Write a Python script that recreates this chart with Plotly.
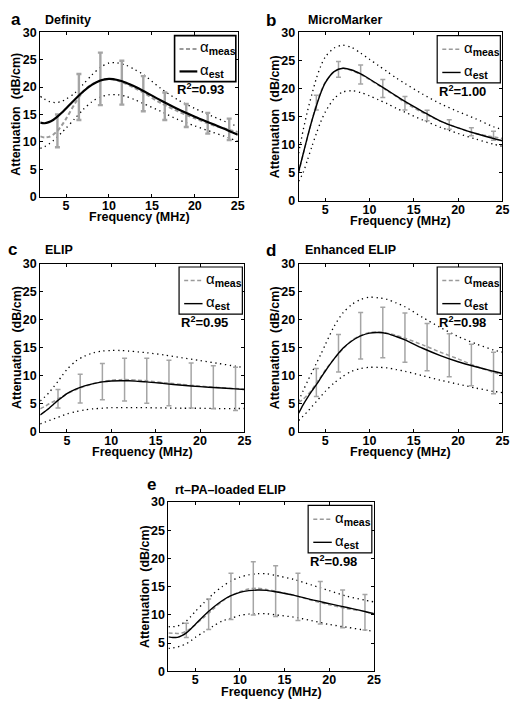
import plotly.graph_objects as go

# ---------------- data ----------------
FREQ = [2, 2.5, 3, 3.5, 4, 4.5, 5, 6, 7, 8, 9, 10, 11, 12, 13, 14, 16, 18, 20, 22, 24, 25]
BAR_FREQ = [4, 6.5, 9, 11.5, 14, 16.5, 19, 21.5, 24]
X_TICKS = [5, 10, 15, 20, 25]
Y_TICKS = [0, 5, 10, 15, 20, 25, 30]

# (a) Definity
DEF_EST = [13.5, 13.4, 13.6, 14.0, 14.6, 15.3, 16.1, 17.7, 19.2, 20.4, 21.2, 21.5, 21.3, 20.8, 20.1, 19.3, 17.6, 16.0, 14.6, 13.3, 12.0, 11.3]
DEF_MEAS = [11.0, 10.8, 10.9, 11.3, 12.0, 13.0, 14.2, 16.9, 19.2, 20.5, 21.2, 21.5, 21.2, 20.6, 19.8, 19.0, 17.1, 15.6, 14.3, 13.1, 12.2, 11.8]
DEF_UP = [18.3, 17.8, 17.4, 17.2, 17.2, 17.4, 17.8, 18.9, 20.5, 22.2, 23.6, 24.4, 24.4, 24.0, 23.2, 22.3, 19.8, 17.7, 16.1, 14.7, 13.4, 12.8]
DEF_LO = [8.8, 9.1, 9.6, 10.2, 10.9, 11.7, 12.5, 14.2, 15.9, 17.3, 18.2, 18.6, 18.6, 18.3, 17.7, 17.0, 15.6, 14.1, 12.9, 11.8, 10.7, 10.1]
DEF_BAR = [12.0, 18.2, 21.5, 20.8, 18.8, 16.5, 14.8, 13.4, 12.3]
DEF_ERR = [3.0, 4.2, 4.8, 4.0, 3.2, 2.5, 2.1, 1.9, 1.95]

# (b) MicroMarker
MM_EST = [5.2, 8.3, 11.4, 14.3, 16.9, 19.2, 21.0, 23.0, 23.6, 23.3, 22.6, 21.7, 20.7, 19.7, 18.7, 17.7, 15.9, 14.2, 13.0, 12.0, 11.1, 10.7]
MM_MEAS = [5.0, 8.2, 11.3, 14.3, 17.2, 19.4, 21.1, 23.0, 23.6, 23.2, 22.5, 21.6, 20.6, 19.6, 18.6, 17.5, 15.7, 14.2, 13.0, 12.0, 11.4, 11.1]
MM_UP = [8.5, 12.5, 16.0, 19.0, 21.8, 24.0, 25.6, 27.2, 27.7, 27.3, 26.3, 25.2, 24.1, 23.0, 21.9, 20.9, 19.0, 17.3, 15.9, 14.6, 13.2, 12.7]
MM_LO = [3.5, 5.0, 7.3, 9.7, 12.0, 14.1, 15.8, 18.2, 19.4, 19.6, 19.3, 18.7, 18.0, 17.3, 16.5, 15.8, 14.4, 13.1, 12.0, 11.0, 10.1, 9.7]
MM_BAR = [17.5, 23.4, 22.5, 20.0, 17.4, 15.2, 13.6, 12.3, 11.6]
MM_ERR = [1.3, 1.4, 1.7, 1.6, 1.2, 0.95, 0.85, 0.7, 0.8]

# (c) ELIP
ELIP_EST = [3.0, 3.6, 4.2, 4.9, 5.6, 6.2, 6.8, 7.6, 8.2, 8.6, 8.9, 9.05, 9.1, 9.1, 9.0, 8.9, 8.6, 8.3, 8.05, 7.85, 7.65, 7.55]
ELIP_MEAS = [4.1, 4.5, 5.0, 5.4, 5.9, 6.3, 6.8, 7.5, 8.1, 8.6, 8.95, 9.2, 9.3, 9.3, 9.2, 9.1, 8.75, 8.45, 8.15, 7.9, 7.7, 7.6]
ELIP_UP = [5.5, 6.2, 7.0, 8.0, 9.0, 10.1, 11.1, 12.6, 13.5, 14.1, 14.4, 14.5, 14.5, 14.4, 14.25, 14.1, 13.7, 13.2, 12.7, 12.2, 11.7, 11.45]
ELIP_LO = [1.4, 1.7, 2.0, 2.3, 2.6, 2.9, 3.2, 3.6, 3.9, 4.1, 4.2, 4.3, 4.3, 4.3, 4.3, 4.3, 4.25, 4.2, 4.2, 4.15, 4.15, 4.15]
ELIP_BAR = [5.9, 7.7, 8.95, 9.3, 9.1, 8.7, 8.25, 7.95, 7.65]
ELIP_ERR = [1.65, 2.55, 3.25, 3.8, 4.0, 4.05, 4.0, 3.85, 3.85]

# (d) Enhanced ELIP
ENH_EST = [3.3, 4.8, 6.1, 7.3, 8.4, 9.6, 10.8, 13.0, 14.9, 16.2, 17.1, 17.6, 17.7, 17.5, 17.0, 16.4, 14.9, 13.6, 12.5, 11.6, 10.8, 10.4]
ENH_MEAS = [5.2, 5.8, 6.6, 7.5, 8.7, 9.8, 11.0, 13.0, 14.8, 16.3, 17.2, 17.7, 17.8, 17.6, 17.2, 16.7, 15.5, 14.2, 13.0, 11.7, 10.6, 10.1]
ENH_UP = [5.5, 7.3, 9.0, 10.6, 12.2, 13.8, 15.5, 18.8, 21.2, 22.7, 23.6, 24.0, 23.9, 23.6, 23.0, 22.3, 20.4, 18.6, 17.0, 15.7, 14.6, 14.2]
ENH_LO = [2.0, 2.8, 3.6, 4.5, 5.4, 6.3, 7.2, 8.7, 9.9, 10.8, 11.3, 11.5, 11.5, 11.4, 11.1, 10.8, 10.0, 9.2, 8.5, 7.8, 7.2, 7.0]
ENH_BAR = [8.8, 14.0, 17.15, 17.7, 16.8, 15.1, 13.65, 11.9, 10.5]
ENH_ERR = [2.5, 3.35, 4.15, 4.5, 4.4, 4.2, 3.85, 3.7, 3.7]

# (e) rt-PA-loaded ELIP
RTPA_EST = [6.1, 6.0, 6.0, 6.3, 6.8, 7.5, 8.3, 9.9, 11.3, 12.5, 13.4, 14.0, 14.3, 14.4, 14.35, 14.1, 13.5, 12.7, 12.0, 11.3, 10.6, 10.2]
RTPA_MEAS = [6.8, 6.75, 6.7, 6.8, 7.1, 7.6, 8.3, 9.6, 11.0, 12.4, 13.4, 14.1, 14.6, 14.7, 14.5, 14.2, 13.5, 12.6, 11.8, 11.1, 10.6, 10.2]
RTPA_UP = [7.9, 7.9, 8.0, 8.4, 8.9, 9.7, 10.6, 12.2, 13.7, 15.0, 16.0, 16.7, 17.1, 17.3, 17.3, 17.0, 16.3, 15.3, 14.3, 13.3, 12.6, 12.3]
RTPA_LO = [4.05, 4.15, 4.3, 4.55, 4.9, 5.4, 6.0, 7.0, 8.0, 8.9, 9.4, 9.9, 10.15, 10.2, 10.2, 10.0, 9.6, 9.0, 8.3, 7.8, 7.3, 7.1]
RTPA_BAR = [7.25, 10.1, 13.3, 14.7, 14.2, 13.2, 12.15, 11.05, 10.45]
RTPA_ERR = [1.25, 2.7, 4.1, 4.7, 4.5, 4.2, 3.75, 3.35, 3.15]

LETTERS = ["a", "b", "c", "d", "e"]
NAMES = ["Definity", "MicroMarker", "ELIP", "Enhanced ELIP", "rt\u2013PA\u2013loaded ELIP"]
R2 = ["0.93", "1.00", "0.95", "0.98", "0.98"]

SERIES = [
    (DEF_EST, DEF_MEAS, DEF_UP, DEF_LO, DEF_BAR, DEF_ERR),
    (MM_EST, MM_MEAS, MM_UP, MM_LO, MM_BAR, MM_ERR),
    (ELIP_EST, ELIP_MEAS, ELIP_UP, ELIP_LO, ELIP_BAR, ELIP_ERR),
    (ENH_EST, ENH_MEAS, ENH_UP, ENH_LO, ENH_BAR, ENH_ERR),
    (RTPA_EST, RTPA_MEAS, RTPA_UP, RTPA_LO, RTPA_BAR, RTPA_ERR),
]

# ---------------- layout geometry (window pixels) ----------------
# the page body has an 8px default margin, so the figure is drawn 8px in
OFF = 8
FW, FH = 524 - 2 * OFF, 715 - 2 * OFF
PANEL_PX = [(40.7, 241.0, 25.7, 193.3), (302.7, 509.3, 25.7, 197.7),
            (40.7, 247.7, 261.7, 433.3), (302.7, 509.3, 261.7, 433.3),
            (170.7, 379.0, 505.0, 677.7)]
LETTER_PX = [(10, 18.3), (268.7, 19.3), (7, 253.3), (269, 254), (148.3, 493.3)]
NAME_PX = [(45, 17.5), (311.3, 17.5), (45, 252.3), (308, 252.3), (176, 496.7)]
THICK = [True, False, False, False, False]

FONT = "Liberation Sans, Arial, sans-serif"
GRAY = "#9a9a9a"
BAR_GRAY = "#a5a5a5"

def px2x(px):
    return (px - OFF) / FW

def px2y(py):
    return 1 - (py - OFF) / FH

fig = go.Figure()
shapes = []
annotations = []

for i, (est, meas, up, lo, bar, err) in enumerate(SERIES):
    n = "" if i == 0 else str(i + 1)
    xa, ya = "x" + n, "y" + n
    thick = THICK[i]
    lw = 2.2 if thick else 1.4
    common = dict(xaxis=xa, yaxis=ya, showlegend=False, hoverinfo="skip")
    dot = dict(color="black", width=1.3, dash="1.3px,3.6px", shape="spline", smoothing=0.8)
    fig.add_trace(go.Scatter(x=FREQ, y=up, mode="lines", line=dot, **common))
    fig.add_trace(go.Scatter(x=FREQ, y=lo, mode="lines", line=dot, **common))
    fig.add_trace(go.Scatter(x=BAR_FREQ, y=bar, mode="markers",
                             marker=dict(size=1, color="rgba(0,0,0,0)"),
                             error_y=dict(type="data", array=err, visible=True, color=BAR_GRAY,
                                          thickness=2.4 if thick else 1.5, width=2.5), **common))
    fig.add_trace(go.Scatter(x=FREQ, y=meas, mode="lines",
                             line=dict(color=GRAY, width=2.0 if thick else 1.5, dash="4px,2.5px",
                                       shape="spline", smoothing=0.8), **common))
    fig.add_trace(go.Scatter(x=FREQ, y=est, mode="lines",
                             line=dict(color="black", width=lw, shape="spline", smoothing=0.8), **common))

    x0, x1, y0, y1 = PANEL_PX[i]
    axis_common = dict(showline=True, linecolor="black", linewidth=1, mirror="ticks",
                       ticks="inside", ticklen=3, tickcolor="black", tickwidth=1,
                       showgrid=False, zeroline=False,
                       tickfont=dict(family=FONT, size=12.5, color="black", weight="bold"))
    fig.update_layout(**{
        "xaxis" + n: dict(domain=[px2x(x0), px2x(x1)], range=[2, 25], tickvals=X_TICKS,
                          anchor=ya, ticklabelstandoff=-3, **axis_common),
        "yaxis" + n: dict(domain=[px2y(y1), px2y(y0)], range=[0, 30], tickvals=Y_TICKS,
                          anchor=xa, **axis_common),
    })

    dx, dy = xa + " domain", ya + " domain"
    # legend box
    shapes.append(dict(type="rect", xref=dx, yref=dy, x0=0.68, x1=0.99, y0=0.70, y1=0.98,
                       line=dict(color="black", width=1.6 if thick else 1.2), fillcolor="white", layer="above"))
    shapes.append(dict(type="line", xref=dx, yref=dy, x0=0.705, x1=0.795, y0=0.899, y1=0.899,
                       line=dict(color=GRAY, width=2.0 if thick else 1.5, dash="4px,2.5px"), layer="above"))
    shapes.append(dict(type="line", xref=dx, yref=dy, x0=0.705, x1=0.795, y0=0.762, y1=0.762,
                       line=dict(color="black", width=lw), layer="above"))
    for yy, sub in [(0.899, "meas"), (0.762, "est")]:
        annotations.append(dict(xref=dx, yref=dy, x=0.805, y=yy, xanchor="left", yanchor="middle",
                                text="\u03b1<sub><b>" + sub + "</b></sub>", showarrow=False, borderpad=0,
                                font=dict(family=FONT, size=15, color="black"), yshift=1))
    # R^2
    annotations.append(dict(xref=dx, yref=dy, x=0.685, y=0.642, xanchor="left", yanchor="middle",
                            text="<b>R<sup>2</sup>=" + R2[i] + "</b>", showarrow=False, borderpad=0,
                            yshift=2, font=dict(family=FONT, size=13, color="black")))
    # axis titles
    annotations.append(dict(xref=dx, yref=dy, x=0.5, y=0, xanchor="center", yanchor="middle", yshift=-20.5,
                            text="<b>Frequency (MHz)</b>", showarrow=False, borderpad=0,
                            font=dict(family=FONT, size=12.5, color="black")))
    annotations.append(dict(xref=dx, yref=dy, x=0, y=0.5, xanchor="center", yanchor="middle", xshift=-24,
                            textangle=-90, text="<b>Attenuation  (dB/cm)</b>", showarrow=False, borderpad=0,
                            font=dict(family=FONT, size=12.5, color="black")))
    # panel letter and name
    lx, lb = LETTER_PX[i]
    annotations.append(dict(xref="paper", yref="paper", x=px2x(lx), y=px2y(lb - 0.346 * 17),
                            xanchor="left", yanchor="middle", text="<b>" + LETTERS[i] + "</b>",
                            showarrow=False, borderpad=0, font=dict(family=FONT, size=17, color="black")))
    nx, nb = NAME_PX[i]
    annotations.append(dict(xref="paper", yref="paper", x=px2x(nx), y=px2y(nb - 0.346 * 12.5),
                            xanchor="left", yanchor="middle", text="<b>" + NAMES[i] + "</b>",
                            showarrow=False, borderpad=0, font=dict(family=FONT, size=12.5, color="black")))

fig.update_layout(width=FW, height=FH, margin=dict(l=0, r=0, t=0, b=0),
                  paper_bgcolor="white", plot_bgcolor="white",
                  shapes=shapes, annotations=annotations, showlegend=False)

fig.write_html("out.html")
